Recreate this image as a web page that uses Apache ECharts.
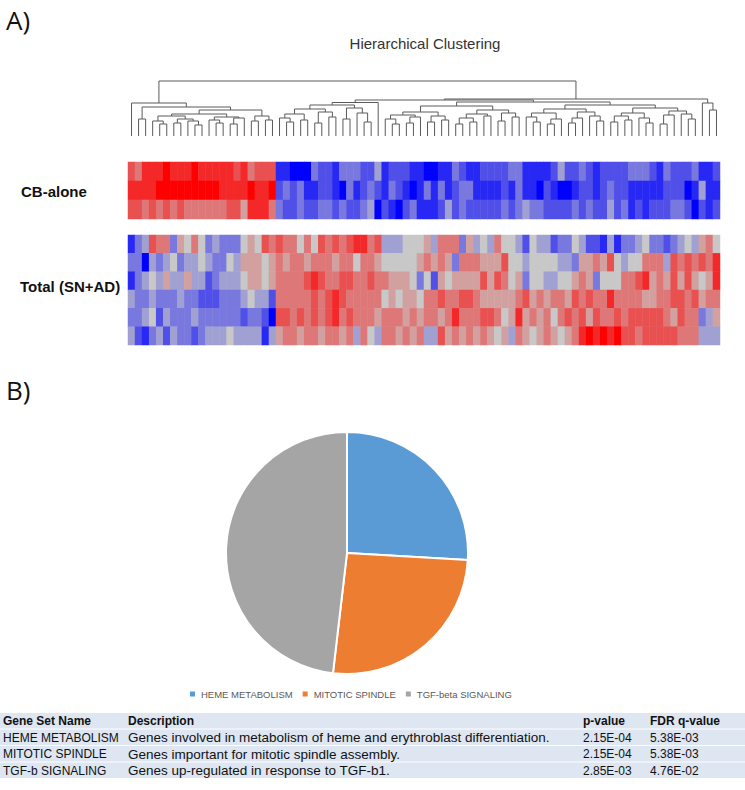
<!DOCTYPE html>
<html><head><meta charset="utf-8">
<script src="https://cdn.jsdelivr.net/npm/echarts@6/dist/echarts.min.js"></script>
<style>html,body{margin:0;padding:0;background:#fff}#c{width:745px;height:790px}</style>
</head><body><div id="c"></div>
<script>
// ---------- Dendrogram: [mergeHeight, left, right]; 0 = leaf ----------
const A3 = [22, [20, [15,0,[12,0,0]], [17,[13,0,0],[15,0,[11,0,0]]]], [19, [16,0,[13,0,0]], [18,[12,0,0],0]]];
const A4 = [20, [15,0,0], [16,0,0]];
const leftCluster = [33, 0, [29, [17,0,0], [26, A3, A4]]];
const B = [31, [27, [22, [18,0,[14,0,0]], [16,0,0]], [24,[13,0,0],[19,0,0]]], [28, [17,0,0], [23,0,[14,0,0]]]];
const BB = [33.5, B, 0];
const C1a = [24, [21, [17,0,[12,0,0]], [19,[13,0,0],0]], [20, [14,0,0], [16,0,0]]];
const C1b = [26, [22, [18,[12,0,0],[14,0,0]], [20,0,0]], [23, [15,0,0], [19,0,0]]];
const C2a = [27, [23, [19,0,[14,0,0]], [17,[12,0,0],0]], [24, [18,[13,0,0],0], [20,0,[15,0,0]]]];
const C2b = [28, [23, [20,[14,0,0],[16,0,0]], [18,0,[13,0,0]]], [25, [21,[12,0,0],0], [22,0,[17,0,0]]]];
const C = [34, [30, C1a, C1b], [31, C2a, C2b]];
const rightCluster = [37, [36, BB, C], [33, 0, [26,0,0]]];
const tree = [55, leftCluster, rightCluster];

// ---------- Heatmap values (-5 blue .. 0 grey .. 5 red) ----------
const cbRow1 = [3,2,4,4,4,5,4,4,4,5,4,4,4,4,4,3,4,2,3,3,3,
 -4,-4,-5,-5,-5,-2,-3,-3,-4,-2,-2,-2,-3,-3,-1,-4,-3,-3,-3,-4,-4,-5,-5,
 -4,-4,-2,-3,-4,-4,-3,-3,-3,-3,-2,-2,-4,-4,-4,-4,-3,-1,-3,-3,-2,-3,-4,-3,-3,-3,-3,-2,-2,-2,-3,-4,-2,-3,-3,-3,-2,-4,-4,-3];
const cbRow2 = [4,4,4,4,5,5,5,5,5,5,5,5,5,4,4,4,4,5,4,4,5,
 -3,-2,-3,-2,-4,-4,-3,-3,-4,-5,-2,-4,-3,-2,-3,-4,-2,-3,-4,-5,-4,-2,-4,
 -2,-4,-3,-2,-2,-4,-4,-4,-4,-3,-4,-2,-4,-4,-5,-3,-4,-5,-5,-4,-3,-3,-4,-3,-2,-3,-3,-4,-4,-4,-4,-4,-3,-3,-3,-5,-4,-1,-4,-4];
const cbRow3 = [3,3,2,3,2,3,2,3,2,2,2,2,2,2,3,3,1,4,4,4,2,
 -2,-3,-3,-2,-3,-3,-2,-2,-3,-2,-3,-3,-2,-1,-5,-3,-4,-5,-3,-2,-4,-4,-4,
 -3,-1,-3,-2,-3,-3,-3,-3,-3,-2,-3,-2,-1,-2,-2,-3,-3,-3,-3,-2,-3,-2,-3,-3,-1,-3,-2,-4,-3,-4,-3,-3,-3,-2,-2,-3,-5,-3,-4,-3];

const totRow1 = [-4,-2,-1,3,2,2,-2,1,0,2,0,-2,-1,-2,-2,-2,0,1,0,3,2,3,2,2,0,2,0,3,2,3,2,3,4,4,2,3,-1,-1,-1,0,0,0,1,-1,
 2,2,2,-2,1,-1,0,-1,2,0,0,-1,-3,0,-1,-1,-3,-2,-2,0,-1,-3,-3,-4,-1,-4,-2,-2,-1,0,-2,-2,-3,-2,-1,0,-1,1,2,0];
const totRow2 = [-2,-2,-5,-1,-2,-1,0,-2,-1,-1,0,-1,-2,-2,0,-1,1,1,1,0,1,2,1,2,2,1,2,2,2,1,2,2,0,2,2,1,0,0,0,0,0,1,2,1,
 2,1,-2,2,2,2,1,1,1,3,0,0,-1,0,0,0,0,-1,-1,-2,1,1,2,1,3,0,-1,0,0,2,2,2,-1,3,2,3,2,3,2,4];
const totRow3 = [-4,-2,-1,0,-1,1,-1,-1,1,-1,-1,-3,-2,-1,-1,-1,0,1,1,0,1,2,2,2,2,3,4,3,2,2,3,3,2,2,3,2,2,1,1,1,0,-2,0,-3,
 1,0,1,1,1,1,3,1,3,2,0,1,-2,0,0,-1,-1,0,0,1,2,1,-2,0,0,0,2,2,3,4,1,2,1,3,1,3,1,0,1,4];
const totRow4 = [-1,-2,-2,-1,-2,-2,-2,-1,-2,-2,-3,-3,-3,-2,-2,-2,-1,0,-1,-1,-3,2,2,2,2,2,3,2,3,4,3,2,2,2,2,2,0,1,0,1,1,0,2,2,
 3,2,2,3,3,2,1,1,1,1,1,2,3,1,2,1,2,2,1,3,2,3,2,2,4,2,2,2,2,1,1,2,2,3,3,2,3,1,2,2];
const totRow5 = [-2,-2,-1,0,-3,-1,-2,-2,-2,-1,-2,-2,-2,-2,-2,-2,-3,-2,-2,-3,-5,3,3,2,3,2,3,2,3,4,2,3,2,2,2,1,2,2,2,1,2,1,2,2,
 1,2,4,2,2,2,3,3,2,0,1,4,1,2,1,2,0,2,3,2,3,1,3,2,2,3,2,3,3,3,3,3,2,1,3,2,2,-2,-1,1];
const totRow6 = [-1,-3,-4,-2,-1,-3,-1,-2,-2,-3,-2,-1,-1,-1,0,-1,-1,-1,-1,-4,-1,1,2,2,1,2,2,1,2,2,1,2,-1,2,0,-1,2,2,1,2,1,2,-1,-1,
 3,1,2,1,2,1,2,1,0,1,-1,2,1,0,1,2,1,0,1,2,4,5,4,5,4,5,3,3,2,3,3,3,3,3,2,2,2,-1,-1,-1];

const cbRows = [cbRow1, cbRow2, cbRow3];
const totRows = [totRow1, totRow2, totRow3, totRow4, totRow5, totRow6];

// ---------- Pie ----------
const pieNames = ['HEME METABOLISM', 'MITOTIC SPINDLE', 'TGF-beta SIGNALING'];
const pieValues = [7, 7, 13];
const pieColors = ['#5b9bd5', '#ed7d31', '#a5a5a5'];

// ---------- Table ----------
const tableHeader = ['Gene Set Name', 'Description', 'p-value', 'FDR q-value'];
const geneSets = ['HEME METABOLISM', 'MITOTIC SPINDLE', 'TGF-b SIGNALING'];
const descriptions = ['Genes involved in metabolism of heme and erythroblast differentiation.',
  'Genes important for mitotic spindle assembly.', 'Genes up-regulated in response to TGF-b1.'];
const pValues = ['2.15E-04', '2.15E-04', '2.85E-03'];
const fdrValues = ['5.38E-03', '5.38E-03', '4.76E-02'];

// ---------- build ----------
let leafCount = 0; const segs = [];
function walk(n) {
  if (n === 0) { const x = leafCount + 0.5; leafCount++; return { x: x, h: 0 }; }
  const l = walk(n[1]), r = walk(n[2]);
  segs.push([l.x, l.h, r.x, r.h, n[0]]);
  return { x: (l.x + r.x) / 2, h: n[0] };
}
walk(tree);
const nCols = cbRow1.length;
const colCats = Array.from({length: nCols}, (_, i) => String(i + 1));
function heat(rows) { const d = []; rows.forEach((r, ri) => r.forEach((v, ci) => d.push([ci, ri, v]))); return d; }

const FONT = "'Liberation Sans', Arial, sans-serif";
const tableTop = 713, rowH = 16.5, colX = [3, 128, 583, 650];
const tableGraphics = [];
const tableRows = [tableHeader].concat(geneSets.map((g, i) => [g, descriptions[i], pValues[i], fdrValues[i]]));
tableRows.forEach((r, ri) => {
  tableGraphics.push({ type: 'rect', left: 0, top: tableTop + ri * rowH, shape: { width: 745, height: rowH - 1 }, style: { fill: '#dde6f1' } });
  r.forEach((t, ci) => tableGraphics.push({ type: 'text', x: colX[ci], y: tableTop + ri * rowH + rowH / 2,
    style: { text: t, font: (ri === 0 ? 'bold ' : '') + (ri > 0 && ci === 1 ? '13.5px ' : '12px ') + FONT, fill: '#111', verticalAlign: 'middle' } }));
});

const chart = echarts.init(document.getElementById('c'), null, { renderer: 'svg' });
chart.setOption({
  animation: false,
  grid: [
    { left: 128, width: 592, top: 81, height: 55 },
    { left: 128, width: 592, top: 162, height: 57 },
    { left: 128, width: 592, top: 235, height: 110 }
  ],
  xAxis: [
    { gridIndex: 0, type: 'value', min: 0, max: nCols, show: false },
    { gridIndex: 1, type: 'category', data: colCats, show: false },
    { gridIndex: 2, type: 'category', data: colCats, show: false }
  ],
  yAxis: [
    { gridIndex: 0, type: 'value', min: 0, max: 55, show: false },
    { gridIndex: 1, type: 'category', data: ['1','2','3'], inverse: true, show: false },
    { gridIndex: 2, type: 'category', data: ['1','2','3','4','5','6'], inverse: true, show: false }
  ],
  visualMap: { show: false, type: 'continuous', min: -5, max: 5, seriesIndex: [1, 2],
    inRange: { color: ['#0000ff', '#c8c8c8', '#ff0000'] } },
  legend: { data: pieNames, top: 684, left: 183, icon: 'rect', itemWidth: 7, itemHeight: 7, itemGap: 8,
    textStyle: { fontSize: 9.5, color: '#595959', fontFamily: FONT } },
  series: [
    { type: 'custom', xAxisIndex: 0, yAxisIndex: 0, data: segs, encode: { x: [0, 2], y: [1, 3, 4] },
      renderItem: function (params, api) {
        const p1 = api.coord([api.value(0), api.value(1)]);
        const p2 = api.coord([api.value(0), api.value(4)]);
        const p3 = api.coord([api.value(2), api.value(4)]);
        const p4 = api.coord([api.value(2), api.value(3)]);
        return { type: 'polyline', shape: { points: [p1, p2, p3, p4] }, style: { stroke: '#5a5a5a', lineWidth: 1, fill: null } };
      } },
    { type: 'heatmap', xAxisIndex: 1, yAxisIndex: 1, data: heat(cbRows), itemStyle: { borderWidth: 0 } },
    { type: 'heatmap', xAxisIndex: 2, yAxisIndex: 2, data: heat(totRows), itemStyle: { borderWidth: 0 } },
    { type: 'pie', center: [347, 553], radius: 121, startAngle: 90, clockwise: true, label: { show: false },
      itemStyle: { borderColor: '#fff', borderWidth: 2 },
      data: pieNames.map((n, i) => ({ name: n, value: pieValues[i], itemStyle: { color: pieColors[i] } })) }
  ],
  graphic: [
    { type: 'text', x: 6, y: 20, style: { text: 'A)', font: "26px 'Open Sans', sans-serif", fill: '#111', verticalAlign: 'middle' } },
    { type: 'text', x: 6, y: 390, style: { text: 'B)', font: "26px 'Open Sans', sans-serif", fill: '#111', verticalAlign: 'middle' } },
    { type: 'text', x: 425, y: 43, style: { text: 'Hierarchical Clustering', font: "15px " + FONT, fill: '#333', align: 'center', verticalAlign: 'middle' } },
    { type: 'text', x: 21, y: 191, style: { text: 'CB-alone', font: "bold 15px " + FONT, fill: '#111', verticalAlign: 'middle' } },
    { type: 'text', x: 20, y: 286, style: { text: 'Total (SN+AD)', font: "bold 15px " + FONT, fill: '#111', verticalAlign: 'middle' } }
  ].concat(tableGraphics)
});
</script></body></html>
